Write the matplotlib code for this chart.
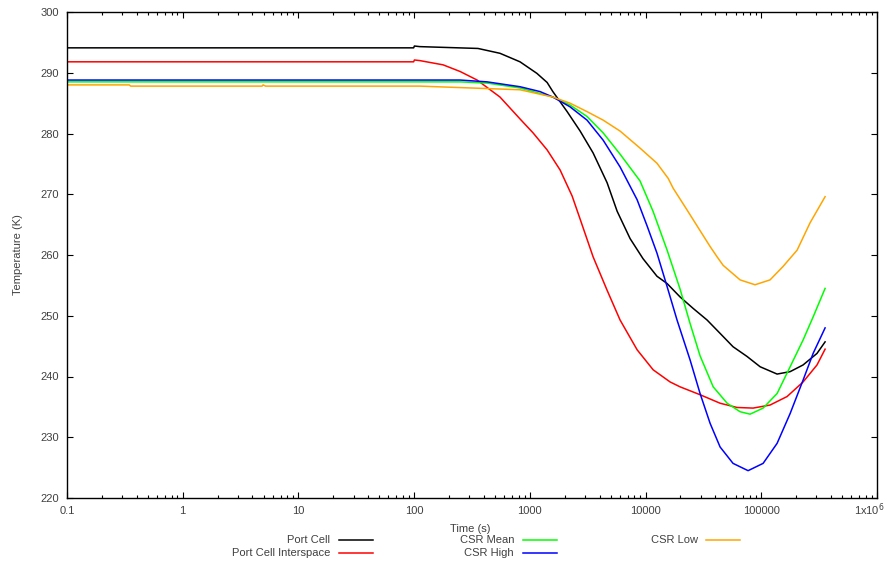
import matplotlib.pyplot as plt
from matplotlib.lines import Line2D
from matplotlib.ticker import FixedLocator, LogLocator, NullFormatter

plt.rcParams['font.family'] = ['Liberation Sans', 'DejaVu Sans']

# Port Cell
t_port = [0.1, 99, 100.5, 112, 356, 552, 822, 1150, 1410, 1580, 2100, 2720, 3520,
          4650, 5680, 7350, 9500, 12550, 15350, 19860, 25800, 34000, 44050,
          57000, 75300, 97800, 137000, 177500, 229700, 303000, 356000]
T_port = [294.1, 294.1, 294.4, 294.3, 294.0, 293.2, 291.8, 289.9, 288.4, 286.9,
          283.6, 280.4, 276.8, 271.9, 267.2, 262.7, 259.4, 256.5, 255.3, 253.1,
          251.2, 249.3, 247.1, 244.9, 243.3, 241.6, 240.4, 240.8, 241.9, 243.8,
          245.7]

# Port Cell Interspace
t_inter = [0.1, 99, 100.5, 112, 178, 250, 350, 552, 822, 1066, 1410, 1825, 2320,
           2720, 3520, 4650, 6020, 8450, 11630, 16300, 19860, 29580, 44050,
           61800, 84900, 119000, 167000, 229700, 303000, 356000]
T_inter = [291.8, 291.8, 292.1, 292.0, 291.3, 290.2, 288.8, 286.0, 282.4, 280.1,
           277.3, 274.0, 269.7, 265.9, 259.7, 254.2, 249.3, 244.4, 241.1, 239.1,
           238.3, 237.0, 235.6, 234.9, 234.8, 235.3, 236.7, 239.1, 241.9, 244.5]

# CSR Mean
t_mean = [0.1, 250, 427, 822, 1580, 2220, 3120, 4300, 6020, 8950, 11600, 15350,
          19860, 24270, 29580, 38400, 50700, 65600, 80000, 103700, 137000,
          177500, 229700, 280500, 356000]
T_mean = [288.5, 288.5, 288.3, 287.5, 286.0, 284.7, 282.8, 280.1, 276.6, 272.2,
          267.2, 260.8, 254.4, 248.7, 243.4, 238.3, 235.6, 234.2, 233.8, 234.8,
          237.2, 241.6, 246.0, 249.8, 254.5]

# CSR High
t_high = [0.1, 250, 427, 822, 1225, 1580, 2220, 3120, 4300, 6020, 8450, 10300,
          12550, 15350, 18700, 24270, 29580, 36100, 44050, 57000, 76900, 103700,
          137000, 177500, 229700, 280500, 356000]
T_high = [288.8, 288.8, 288.5, 287.7, 286.9, 286.0, 284.4, 282.2, 278.9, 274.5,
          269.1, 264.8, 260.3, 254.8, 249.3, 242.7, 237.2, 232.3, 228.4, 225.7,
          224.5, 225.7, 229.0, 233.9, 239.4, 243.8, 248.0]

# CSR Low
t_low = [0.1, 0.345, 0.355, 4.85, 4.95, 5.2, 112, 822, 1580, 2220, 3120, 4300,
         6020, 8950, 12550, 15700, 17300, 22850, 29600, 36100, 41500, 46800,
         65600, 88300, 119000, 154000, 204000, 264000, 356000]
T_low = [288.0, 288.0, 287.8, 287.8, 288.0, 287.8, 287.8, 287.2, 286.0, 285.0,
         283.6, 282.2, 280.4, 277.6, 275.1, 272.6, 271.0, 267.4, 264.0, 261.4,
         259.7, 258.3, 255.9, 255.1, 255.9, 258.1, 260.8, 265.3, 269.6]

labels = ['Port Cell', 'Port Cell Interspace', 'CSR Mean', 'CSR High', 'CSR Low']
colors = ['#000000', '#ff0000', '#00ff00', '#0000ff', '#ffa500']
series = [(t_port, T_port), (t_inter, T_inter), (t_mean, T_mean),
          (t_high, T_high), (t_low, T_low)]

xticks = [0.1, 1, 10, 100, 1000, 10000, 100000, 1e6]
xtick_labels = ['0.1', '1', '10', '100', '1000', '10000', '100000', '']
yticks = [220, 230, 240, 250, 260, 270, 280, 290, 300]

fig = plt.figure(figsize=(8.92, 5.64), dpi=100)
ax = fig.add_axes([67 / 892, 1 - 498 / 564, 810 / 892, 486 / 564])

for (t, T), c in zip(series, colors):
    ax.plot(t, T, color=c, linewidth=1.1)

ax.set_xscale('log')
ax.set_xlim(0.1, 1e6)
ax.set_ylim(220, 300)
ax.xaxis.set_major_locator(FixedLocator(xticks))
ax.set_xticklabels(xtick_labels)
ax.xaxis.set_minor_locator(LogLocator(base=10, subs=range(2, 10), numticks=20))
ax.xaxis.set_minor_formatter(NullFormatter())
ax.set_yticks(yticks)

txt = '#404040'
ax.tick_params(which='both', direction='in', top=True, right=True,
               labelsize=8, labelcolor=txt, width=0.8)
ax.tick_params(which='major', length=4, pad=6)
ax.tick_params(which='minor', length=2.2)
for s in ax.spines.values():
    s.set_linewidth(1.0)

# last x label has a superscript, put it on the same baseline as the others
fig.text(869 / 892, 1 - 515 / 564, r'1x10$^{6}$', ha='center', va='baseline',
         fontsize=8, color=txt)

fig.text(470 / 892, 1 - 529 / 564, 'Time (s)', ha='center', va='center',
         fontsize=8, color=txt)
fig.text(18 / 892, 1 - 255 / 564, 'Temperature (K)', ha='center', va='center',
         rotation=90, fontsize=8, color=txt)

# legend laid out like gnuplot: text on the left, sample line on the right
text_right = [330, 330, 514, 514, 698]
line_x = [(339, 373), (339, 373), (523, 557), (523, 557), (706, 740)]
row_y = [540, 553, 540, 553, 540]
for lab, c, xr, (x0, x1), y in zip(labels, colors, text_right, line_x, row_y):
    fig.text(xr / 892, 1 - y / 564, lab, ha='right', va='center',
             fontsize=8, color=txt)
    fig.add_artist(Line2D([x0 / 892, x1 / 892], [1 - y / 564, 1 - y / 564],
                          color=c, linewidth=1.1, transform=fig.transFigure))

fig.savefig('out.png', dpi=100)
